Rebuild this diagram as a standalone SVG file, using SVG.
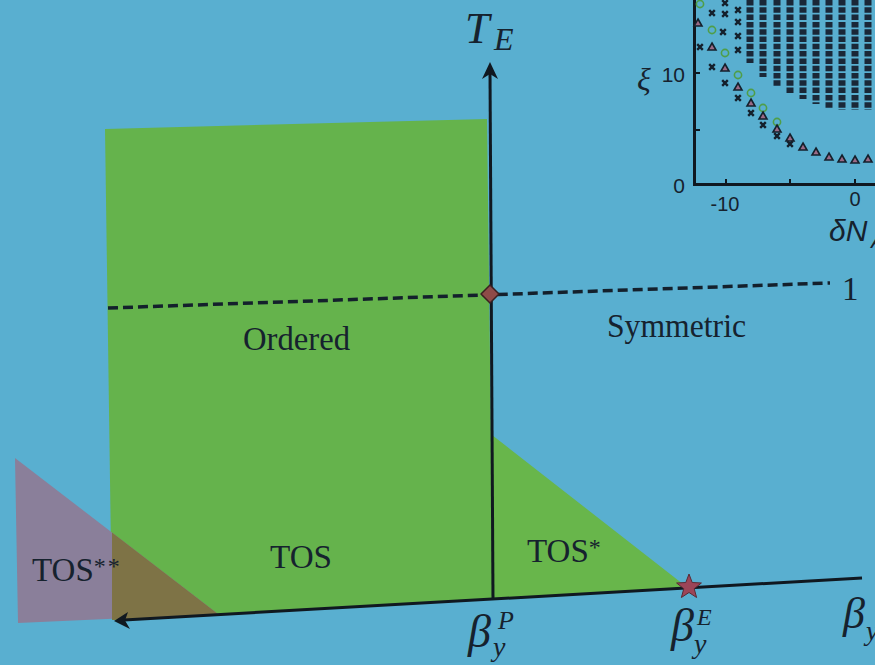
<svg xmlns="http://www.w3.org/2000/svg" width="875" height="665" viewBox="0 0 875 665">
<style>
.t{font-family:"Liberation Serif","Times New Roman",serif;fill:#16222e}
.i{font-style:italic}
.s{font-family:"Liberation Sans",Arial,sans-serif;fill:#16222e}
.ax{stroke:#101820;stroke-width:3;fill:none}
.col{stroke:#1a2838;stroke-width:7;stroke-dasharray:5.5 1.8;fill:none}
.tk{stroke:#101820;stroke-width:2;fill:none}
</style>
<defs>
<path id="mx" d="M-2.8,-2.8L2.8,2.8M-2.8,2.8L2.8,-2.8" stroke="#14202c" stroke-width="2.4" fill="none"/>
<path id="mt" d="M0,-4L4,3H-4Z" fill="#9a6a86" stroke="#14202c" stroke-width="1.6"/>
<circle id="mc" r="3.6" fill="none" stroke="#4f9e48" stroke-width="1.6"/>
</defs>
<rect width="875" height="665" fill="#59afd0"/>

<g id="regions">
<g id="ordered-region"><polygon points="105,129 487,119 493,599 118,620 112,620" fill="#65b34c"/></g>
<g id="tos-star-region"><polygon points="492,435 688,588 493,599" fill="#68b64b"/></g>
<g id="tos-dstar-region">
<polygon points="15,458 218,614 18,623" fill="#8a7f9a"/>
<polygon points="112,532.5 218,614 112,620" fill="#7e7346"/>
</g>
</g>

<g id="connectors">
<line x1="108" y1="308" x2="830" y2="283" stroke="#14202c" stroke-width="3.5" stroke-dasharray="10 5"/>
<line class="ax" x1="490" y1="72" x2="493" y2="600"/>
<polygon points="490,62 498,79 490,74 482,79" fill="#101820"/>
<line class="ax" x1="124" y1="620" x2="862" y2="578"/>
<polygon points="114,621 130,629 125,620.5 128,612" fill="#101820"/>
</g>

<g id="critical-point"><polygon points="490,285 499,294 490,303 481,294" fill="#8e4b48" stroke="#3a2020" stroke-width="1.5" stroke-linejoin="round"/></g>
<g id="endpoint-star"><polygon points="689,574 692.2,582.5 701.4,583 694.2,588.7 696.6,597.5 689,592.5 681.4,597.5 683.8,588.7 676.6,583 685.8,582.5" fill="#9c4558" stroke="#5a2a35" stroke-width="1"/></g>

<g id="labels">
<text class="t" x="243" y="350" font-size="33" textLength="107" lengthAdjust="spacingAndGlyphs">Ordered</text>
<text class="t" x="607" y="337" font-size="33" textLength="139" lengthAdjust="spacingAndGlyphs">Symmetric</text>
<text class="t" x="270" y="568" font-size="33" textLength="62" lengthAdjust="spacingAndGlyphs">TOS</text>
<text class="t" x="527" y="562" font-size="33">TOS<tspan font-size="24" dy="-7">*</tspan></text>
<text class="t" x="32" y="581" font-size="33">TOS<tspan font-size="24" dy="-7" letter-spacing="2">**</tspan></text>
<text class="t" x="842" y="300" font-size="33">1</text>
<text class="t i" x="465" y="43" font-size="44">T</text>
<text class="t i" x="494" y="50" font-size="32">E</text>
<text class="t i" x="468" y="647" font-size="46">β</text>
<text class="t i" x="498" y="629" font-size="26">P</text>
<text class="t i" x="493" y="656" font-size="28">y</text>
<text class="t i" x="671" y="641" font-size="46">β</text>
<text class="t i" x="697" y="625" font-size="24">E</text>
<text class="t i" x="694" y="653" font-size="28">y</text>
<text class="t i" x="843" y="628" font-size="44">β</text>
<text class="t i" x="866" y="640" font-size="28">y</text>
</g>

<g id="inset">
<path class="ax" d="M694.5,0V184.5H875" stroke-width="2.5"/>
<path class="tk" d="M695,73h5M695,130h5M726,184v-5M790,184v-5M855,184v-5"/>
<text class="t i" x="637" y="90" font-size="32">ξ</text>
<text class="s" x="685" y="82" font-size="21" text-anchor="end">10</text>
<text class="s" x="685" y="193" font-size="21" text-anchor="end">0</text>
<text class="s" x="725" y="211" font-size="20" text-anchor="middle">-10</text>
<text class="s" x="855" y="206" font-size="20" text-anchor="middle">0</text>
<text class="s i" x="829" y="241" font-size="30">δN</text>
<text class="s i" x="871" y="248" font-size="20">A</text>
<path class="col" d="M750,0V63M763,0V77M777,0V86M790,0V95M803,0V99M816,0V104M829,0V108M842,0V110M855,0V110M868,0V110"/>
<g id="markers">
<use href="#mc" x="700" y="4"/><use href="#mx" x="712" y="13"/><use href="#mx" x="725" y="3"/><use href="#mx" x="725" y="14"/>
<use href="#mx" x="738" y="10"/><use href="#mx" x="738" y="22"/><use href="#mx" x="738" y="36"/>
<use href="#mt" x="698" y="23"/><use href="#mc" x="712" y="30"/><use href="#mx" x="723" y="32"/>
<use href="#mx" x="700" y="47"/><use href="#mt" x="712" y="47"/><use href="#mx" x="738" y="50"/>
<use href="#mc" x="725" y="53"/><use href="#mx" x="712" y="67"/><use href="#mt" x="725" y="68"/>
<use href="#mc" x="738" y="75"/><use href="#mx" x="725" y="83"/><use href="#mt" x="738" y="87"/>
<use href="#mc" x="751" y="93"/><use href="#mx" x="738" y="98"/><use href="#mt" x="751" y="103"/>
<use href="#mc" x="763" y="108"/><use href="#mx" x="751" y="113"/><use href="#mt" x="763" y="116"/>
<use href="#mc" x="777" y="122"/><use href="#mx" x="763" y="125"/><use href="#mt" x="777" y="129"/>
<use href="#mx" x="777" y="136"/><use href="#mt" x="790" y="138"/><use href="#mx" x="790" y="144"/>
<use href="#mt" x="803" y="147"/><use href="#mt" x="816" y="152"/><use href="#mt" x="829" y="157"/>
<use href="#mt" x="842" y="159"/><use href="#mt" x="855" y="160"/><use href="#mt" x="868" y="159"/>
</g>
</g>
</svg>
